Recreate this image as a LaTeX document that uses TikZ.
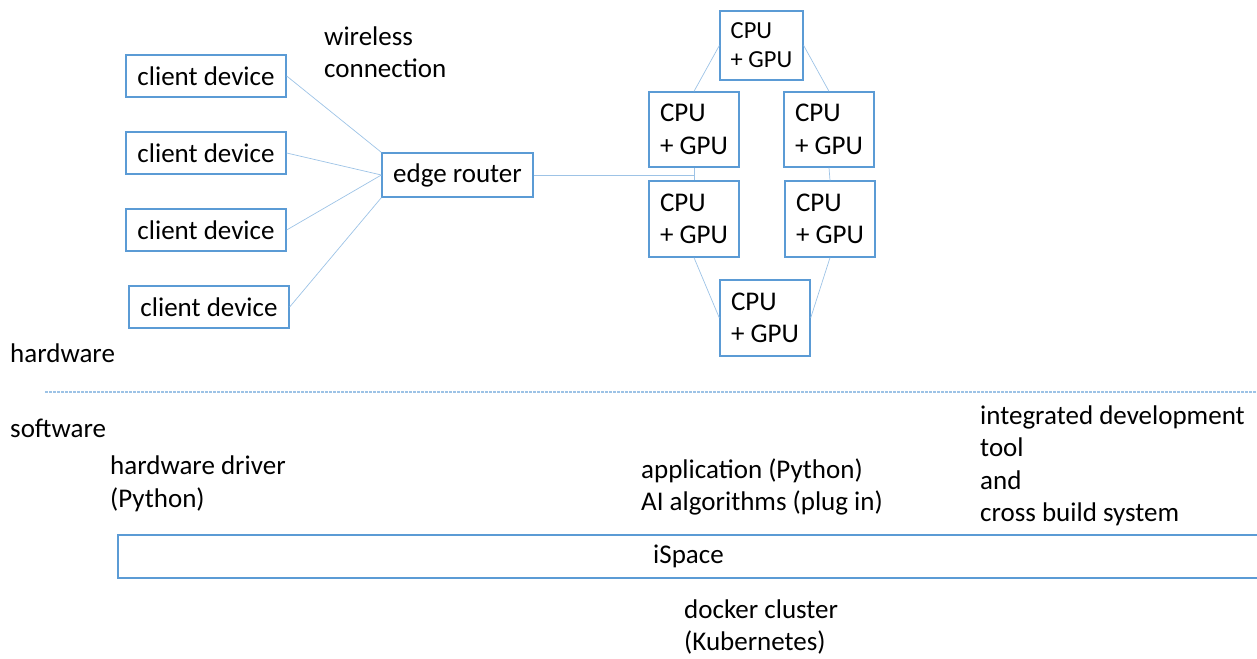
\documentclass[tikz,border=0pt]{standalone}
\usepackage{fontspec}
\setmainfont{Carlito}
\newcommand\dfont{\fontsize{27}{32.5}\selectfont}
\newcommand\sfont{\fontsize{24.5}{29}\selectfont}
\definecolor{boxblue}{HTML}{5B9BD5}
\definecolor{linkblue}{HTML}{9DC3E6}
\begin{document}
\begin{tikzpicture}[x=1pt,y=-1pt,
  box/.style={draw=boxblue,line width=1.3pt,inner sep=0pt,align=left,font=\dfont},
  link/.style={draw=linkblue,line width=0.7pt},
  lbl/.style={anchor=west,inner sep=0pt,align=left,font=\dfont},
  sep/.style={draw=linkblue,line width=1.3pt,dash pattern=on 2.5pt off 1.5pt}]
\useasboundingbox (0,0) rectangle (1257,658);
% client devices
\node[box,minimum width=160pt,minimum height=42pt] (c1) at (206,76) {client device};
\node[box,minimum width=160pt,minimum height=42pt] (c2) at (206,153) {client device};
\node[box,minimum width=160pt,minimum height=42pt] (c3) at (206,230) {client device};
\node[box,minimum width=160pt,minimum height=42pt] (c4) at (209,307) {client device};
\node[box,minimum width=151pt,minimum height=44pt] (er) at (457.5,175) {edge router};
% cluster
\node[box,font=\sfont,minimum width=83pt,minimum height=69pt] (top) at (761.5,45.5) {CPU\\+ GPU};
\node[box,minimum width=90pt,minimum height=75pt] (lm) at (694,129.5) {CPU\\+ GPU};
\node[box,minimum width=90pt,minimum height=75pt] (rm) at (829,129.5) {CPU\\+ GPU};
\node[box,minimum width=90pt,minimum height=76pt] (ll) at (694,219) {CPU\\+ GPU};
\node[box,minimum width=90pt,minimum height=76pt] (rl) at (830,219) {CPU\\+ GPU};
\node[box,minimum width=90pt,minimum height=76pt] (bt) at (765,318) {CPU\\+ GPU};
% links
\draw[link] (c1.east) -- (er.north west);
\draw[link] (c2.east) -- (er.west);
\draw[link] (c3.east) -- (er.west);
\draw[link] (c4.east) -- (er.south west);
\coordinate (j) at (lm.south |- er.east);
\draw[link] (er.east) -- (j);
\draw[link] (lm.south) -- (ll.north);
\draw[link] (top.west) -- (lm.north);
\draw[link] (top.east) -- (rm.north);
\draw[link] (rm.south) -- (rl.north);
\draw[link] (ll.south) -- (bt.west);
\draw[link] (rl.south) -- (bt.east);
% labels
\node[lbl] (wl) at (324,52) {wireless\\connection};
\node[lbl] (hw) at (10,353) {hardware};
\coordinate (sa) at (45,392);
\coordinate (sb) at (1257,392);
\draw[sep] (sa) -- (sb);
\node[lbl] (sw) at (10,428) {software};
\node[lbl] (drv) at (110,484) {hardware driver\\(Python)};
\node[lbl] (app) at (641,487) {application (Python)\\AI algorithms (plug in)};
\node[lbl] (ide) at (980,466) {integrated development\\tool\\and\\cross build system};
\node[box,minimum width=1141pt,minimum height=43pt] (isp) at (688.5,556.5) {iSpace};
\node[lbl] (dock) at (684,627) {docker cluster\\(Kubernetes)};
\end{tikzpicture}
\end{document}
